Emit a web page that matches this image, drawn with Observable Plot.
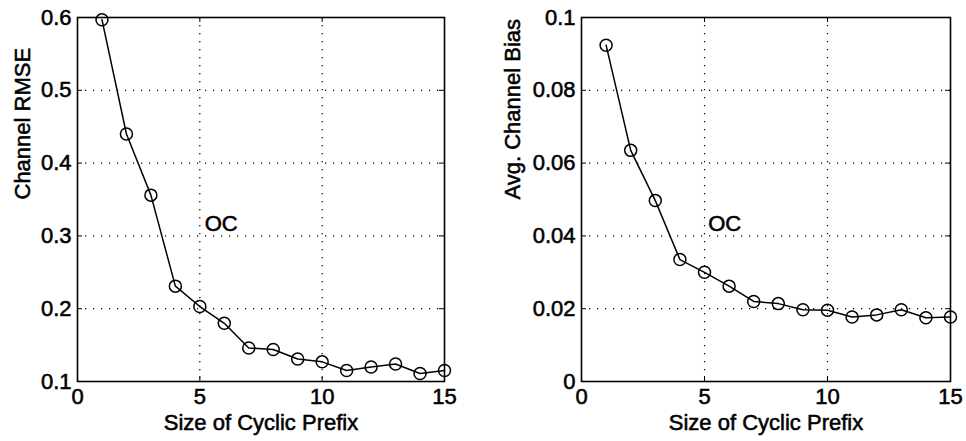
<!DOCTYPE html>
<html>
<head>
<meta charset="utf-8">
<script src="https://cdn.jsdelivr.net/npm/d3@7"></script>
<script src="https://cdn.jsdelivr.net/npm/@observablehq/plot@0.6"></script>
<style>
  html, body { margin: 0; padding: 0; background: #fff; }
  #wrap { display: flex; width: 966px; height: 441px; }
  svg { font-family: "Liberation Sans", Arial, Helvetica, sans-serif; }
  svg text { stroke: black; stroke-width: 0.55px; }
</style>
</head>
<body>
<div id="wrap"></div>
<script>
const prefixSizes = [1, 2, 3, 4, 5, 6, 7, 8, 9, 10, 11, 12, 13, 14, 15];
const channelRMSE = [0.597, 0.440, 0.356, 0.231, 0.203, 0.180, 0.146, 0.144, 0.131, 0.127, 0.115, 0.120, 0.124, 0.111, 0.115];
const avgChannelBias = [0.0924, 0.0635, 0.0497, 0.0335, 0.0300, 0.0262, 0.0220, 0.0214, 0.0197, 0.0196, 0.0177, 0.0183, 0.0197, 0.0175, 0.0177];
const xTicks = [0, 5, 10, 15];
const rmseTicks = [0.1, 0.2, 0.3, 0.4, 0.5, 0.6];
const biasTicks = [0, 0.02, 0.04, 0.06, 0.08, 0.1];
const xLabel = "Size of Cyclic Prefix";
const rmseLabel = "Channel RMSE";
const biasLabel = "Avg. Channel Bias";
const curveName = "OC";
const rmseNamePos = [5.2, 0.317];
const biasNamePos = [5.15, 0.0432];

function panel(values, yTicks, yDomain, yLabel, namePos, mLeft, mRight) {
  const H = 441, mTop = 17, mBottom = 60, W = 483;
  const data = prefixSizes.map((x, i) => ({x, y: values[i]}));
  const innerH = H - mTop - mBottom;
  const innerW = W - mLeft - mRight;
  return Plot.plot({
    width: W,
    height: H,
    marginLeft: mLeft,
    marginRight: mRight,
    marginTop: mTop,
    marginBottom: mBottom,
    style: {fontFamily: '"Liberation Sans", Arial, sans-serif', background: "white", overflow: "visible"},
    x: {domain: [0, 15], ticks: xTicks},
    y: {domain: yDomain, ticks: yTicks},
    marks: [
      Plot.gridX(xTicks.slice(1, -1), {stroke: "black", strokeOpacity: 1, strokeWidth: 1.2, strokeDasharray: "1.2,6.8"}),
      Plot.gridY(yTicks.slice(1, -1), {stroke: "black", strokeOpacity: 1, strokeWidth: 1.2, strokeDasharray: "1.2,6.8"}),
      Plot.tickX(xTicks, {x: d => d, insetTop: innerH - 5, stroke: "black"}),
      Plot.tickX(xTicks, {x: d => d, insetBottom: innerH - 5, stroke: "black"}),
      Plot.tickY(yTicks, {y: d => d, insetRight: innerW - 5, stroke: "black"}),
      Plot.tickY(yTicks, {y: d => d, insetLeft: innerW - 5, stroke: "black"}),
      Plot.axisX(xTicks, {tickSize: 0, tickPadding: 7, fontSize: 22, tickFormat: d => String(d), label: null, fill: "black"}),
      Plot.axisY(yTicks, {tickSize: 0, tickPadding: 6, fontSize: 22, tickFormat: d => String(d), label: null, fill: "black"}),
      Plot.frame({stroke: "black", strokeWidth: 1.6}),
      Plot.line(data, {x: "x", y: "y", stroke: "black", strokeWidth: 1.5}),
      Plot.dot(data, {x: "x", y: "y", r: 6, stroke: "black", strokeWidth: 1.5, fill: "none"}),
      Plot.text([curveName], {x: namePos[0], y: namePos[1], text: d => d, textAnchor: "start", lineAnchor: "middle", fontSize: 22, fill: "black"}),
      Plot.text([xLabel], {frameAnchor: "bottom", text: d => d, dy: 41, lineAnchor: "middle", fontSize: 22, fill: "black"}),
      Plot.text([yLabel], {frameAnchor: "left", text: d => d, dx: mLeft === 77 ? -55 : -69, rotate: -90, lineAnchor: "middle", fontSize: 22, fill: "black"})
    ]
  });
}

const wrap = document.getElementById("wrap");
wrap.appendChild(panel(channelRMSE, rmseTicks, [0.1, 0.6], rmseLabel, rmseNamePos, 77, 39));
wrap.appendChild(panel(avgChannelBias, biasTicks, [0, 0.1], biasLabel, biasNamePos, 98, 16));
</script>
</body>
</html>
